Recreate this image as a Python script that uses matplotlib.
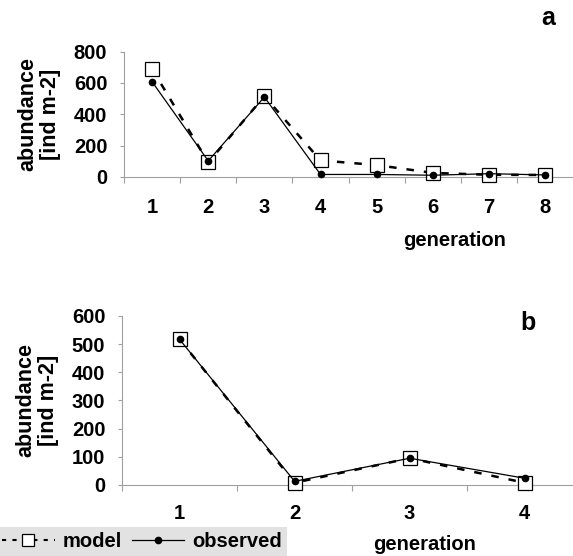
import matplotlib
matplotlib.use("Agg")
import matplotlib.pyplot as plt
from matplotlib.lines import Line2D

plt.rcParams['font.family'] = ['Liberation Sans', 'DejaVu Sans']
plt.rcParams['font.weight'] = 'bold'

gen_a = [1, 2, 3, 4, 5, 6, 7, 8]
model_a = [690, 92, 515, 105, 75, 25, 13, 12]
observed_a = [608, 102, 510, 15, 15, 10, 20, 12]

gen_b = [1, 2, 3, 4]
model_b = [517, 8, 95, 8]
observed_b = [517, 13, 95, 24]

yticks_a = [0, 200, 400, 600, 800]
yticks_b = [0, 100, 200, 300, 400, 500, 600]

FS = 14.5
AXC = '#a0a0a0'

fig = plt.figure(figsize=(5.73, 5.56), dpi=100)

def style(ax, n, ylim, yticks, xpad):
    ax.set_xlim(0.5, n + 0.5)
    ax.set_ylim(*ylim)
    for s in ['top', 'right']:
        ax.spines[s].set_visible(False)
    for s in ['left', 'bottom']:
        ax.spines[s].set_color(AXC)
        ax.spines[s].set_linewidth(0.8)
    ax.set_yticks(yticks)
    ax.set_xticks([i + 0.5 for i in range(0, n + 1)], minor=False)
    ax.set_xticklabels([])
    ax.set_xticks(list(range(1, n + 1)), minor=True)
    ax.set_xticklabels([str(i) for i in range(1, n + 1)], minor=True, fontsize=FS, fontweight='bold')
    ax.tick_params(axis='x', which='minor', length=0, pad=xpad)
    ax.tick_params(axis='x', which='major', length=4, color=AXC, direction='out')
    ax.tick_params(axis='y', length=3, color=AXC, pad=9, labelsize=FS)
    for l in ax.get_yticklabels():
        l.set_fontweight('bold')
    ax.set_ylabel('abundance\n[ind m-2]', fontsize=FS + 1, fontweight='bold', labelpad=9, linespacing=1.15)

# Panel a
axa = fig.add_axes([0.2164, 0.682, 0.784, 0.225])
axa.plot(gen_a, model_a, color='black', linestyle=(0, (3, 4)), linewidth=1.8,
         marker='s', markersize=10, markerfacecolor='white', markeredgecolor='black',
         markeredgewidth=0.9, clip_on=False, zorder=3)
axa.plot(gen_a, observed_a, color='black', linestyle='-', linewidth=0.9,
         marker='o', markersize=4.5, markerfacecolor='black', clip_on=False, zorder=4)
style(axa, 8, (0, 800), yticks_a, 15)
fig.text(548 / 573, 1 - 18 / 556, 'a', fontsize=18, fontweight='bold', ha='center', va='center')
fig.text(455 / 573, 1 - 240 / 556, 'generation', fontsize=FS, fontweight='bold', ha='center', va='center')

# Panel b
axb = fig.add_axes([0.213, 0.1277, 0.803, 0.304])
axb.plot(gen_b, model_b, color='black', linestyle=(0, (3, 4)), linewidth=1.8,
         marker='s', markersize=10, markerfacecolor='white', markeredgecolor='black',
         markeredgewidth=0.9, clip_on=False, zorder=3)
axb.plot(gen_b, observed_b, color='black', linestyle='-', linewidth=0.9,
         marker='o', markersize=4.5, markerfacecolor='black', clip_on=False, zorder=4)
style(axb, 4, (0, 600), yticks_b, 14)
fig.text(528 / 573, 1 - 323 / 556, 'b', fontsize=18, fontweight='bold', ha='center', va='center')
fig.text(425 / 573, 1 - 545 / 556, 'generation', fontsize=FS, fontweight='bold', ha='center', va='center')

hm = Line2D([], [], color='black', linestyle=(0, (2, 3)), linewidth=1.5, marker='s', markersize=9,
            markerfacecolor='white', markeredgecolor='black', markeredgewidth=0.9)
ho = Line2D([], [], color='black', linestyle='-', linewidth=0.9, marker='o', markersize=4.5,
            markerfacecolor='black')
leg = fig.legend([hm, ho], ['model', 'observed'], loc='lower left', bbox_to_anchor=(-0.005, 0.0),
                 ncol=2, frameon=True, fancybox=False, facecolor='#e2e2e2', edgecolor='none',
                 framealpha=1, fontsize=FS, handlelength=2.6, handletextpad=0.4, columnspacing=0.5,
                 borderpad=0.25, borderaxespad=0)
for t in leg.get_texts():
    t.set_fontweight('bold')

fig.savefig('out.png', dpi=100)
